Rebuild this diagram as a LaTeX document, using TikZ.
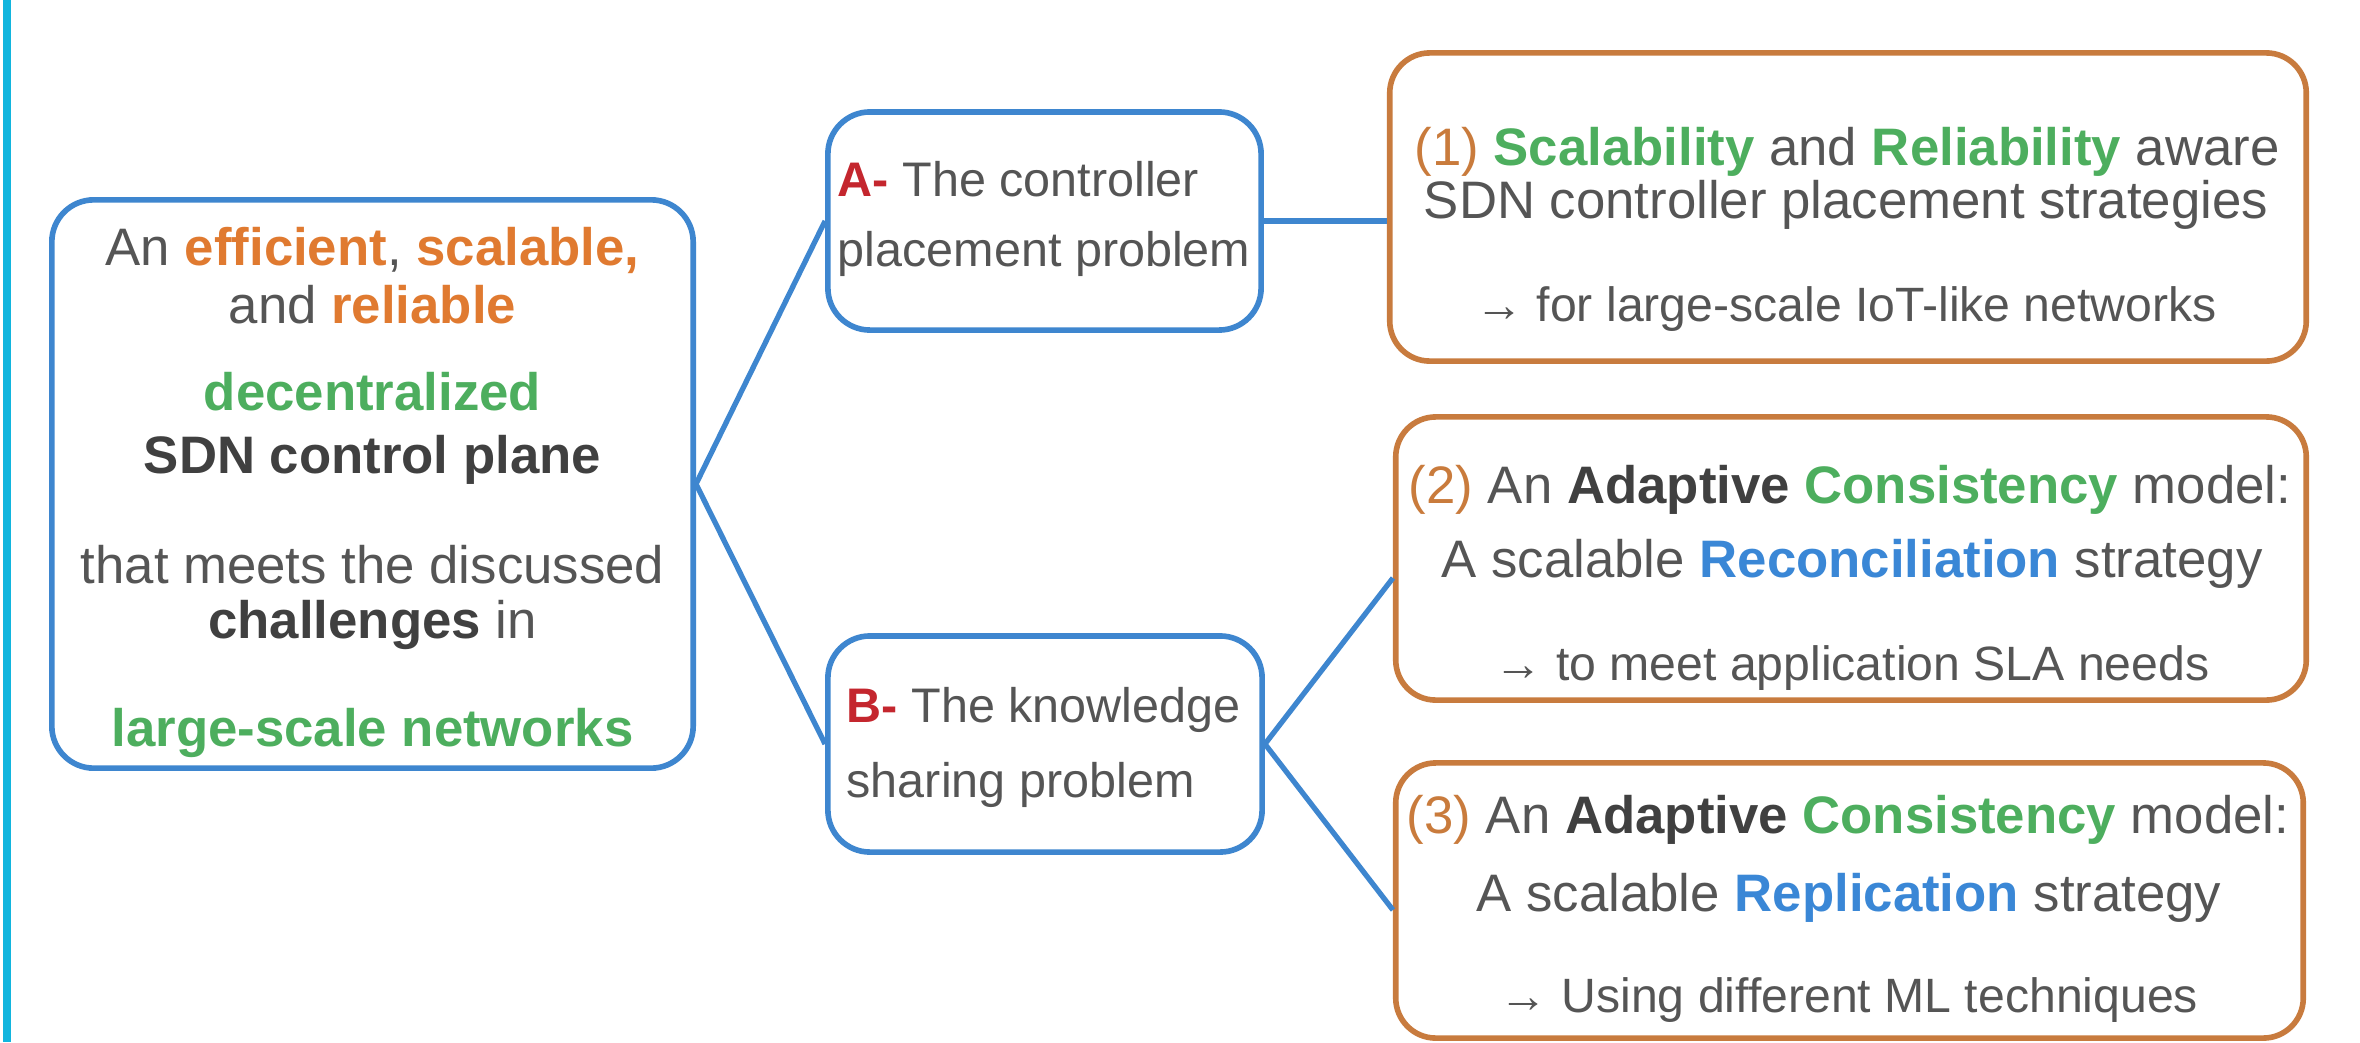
\documentclass[tikz,border=0pt]{standalone}
\usepackage{fontspec}
\setmainfont{Liberation Sans}
\usetikzlibrary{calc}
\definecolor{txtgray}{HTML}{555555}
\definecolor{txtdark}{HTML}{404040}
\definecolor{txtora}{HTML}{E07A30}
\definecolor{numora}{HTML}{C97B3C}
\definecolor{txtgreen}{HTML}{4DAE5E}
\definecolor{txtblue}{HTML}{3A87D6}
\definecolor{txtred}{HTML}{C4262E}
\definecolor{boxblue}{HTML}{3E86CF}
\definecolor{boxorange}{HTML}{C87B3E}
\definecolor{cyanbar}{HTML}{12B5DE}
\newcommand{\hlO}[1]{\textcolor{txtora}{\textbf{#1}}}
\newcommand{\hlG}[1]{\textcolor{txtgreen}{\textbf{#1}}}
\newcommand{\hlB}[1]{\textcolor{txtblue}{\textbf{#1}}}
\newcommand{\hlD}[1]{\textcolor{txtdark}{\textbf{#1}}}
\newcommand{\hlR}[1]{\textcolor{txtred}{\textbf{#1}}}
\newcommand{\hlN}[1]{\textcolor{numora}{#1}}
\begin{document}
\begin{tikzpicture}[x=0.01cm,y=-0.01cm,
  bluebox/.style={draw=boxblue, line width=1.6pt, rounded corners=0.42cm, fill=white, inner sep=0pt},
  orangebox/.style={draw=boxorange, line width=1.6pt, rounded corners=0.4cm, fill=white, inner sep=0pt},
  link/.style={draw=boxblue, line width=1.5pt},
  bigtxt/.style={font=\fontsize{15}{18}\selectfont, text=txtgray, anchor=base, inner sep=0pt},
  midtxt/.style={font=\fontsize{13.8}{16}\selectfont, text=txtgray, anchor=base west, inner sep=0pt},
  smalltxt/.style={font=\fontsize{13.7}{16}\selectfont, text=txtgray, anchor=base, inner sep=0pt}]
\useasboundingbox (0,0) rectangle (2360,1042);
\fill[white] (0,0) rectangle (2360,1042);
\fill[cyanbar] (3,0) rectangle (11,1042);

% boxes
\node[bluebox, minimum width=6.41cm, minimum height=5.68cm] (main) at (372.5,484) {};
\node[bluebox, minimum width=4.33cm, minimum height=2.18cm] (pa) at (1044.5,221) {};
\node[bluebox, minimum width=4.34cm, minimum height=2.16cm] (pb) at (1045,744) {};
\node[orangebox, minimum width=9.16cm, minimum height=3.08cm] (c1) at (1848,207) {};
\node[orangebox, minimum width=9.10cm, minimum height=2.83cm] (c2) at (1851,558.5) {};
\node[orangebox, minimum width=9.07cm, minimum height=2.75cm] (c3) at (1849.5,900.5) {};

% connectors
\draw[link] (main.east) -- (pa.west);
\draw[link] (main.east) -- (pb.west);
\draw[link] (pa.east) -- (pa.east -| c1.west);
\draw[link] (pb.east) -- ([yshift=-0.195cm]c2.west);
\draw[link] (pb.east) -- ([yshift=-0.095cm]c3.west);

% main box text
\node[bigtxt] (m1) at (372.5,265) {An \hlO{efficient}, \hlO{scalable,}};
\node[bigtxt] (m2) at (372.5,323) {and \hlO{reliable}};
\node[bigtxt] (m3) at (372.5,410) {\hlG{decentralized}};
\node[bigtxt] (m4) at (372.5,473) {\hlD{SDN control plane}};
\node[bigtxt] (m5) at (372.5,583) {that meets the discussed};
\node[bigtxt] (m6) at (372.5,638) {\hlD{challenges} in};
\node[bigtxt] (m7) at (372.5,746) {\hlG{large-scale networks}};

% problem boxes
\node[midtxt] (a1) at (837,196) {\hlR{A-} The controller};
\node[midtxt] (a2) at (837,266) {placement problem};
\node[midtxt] (b1) at (846,722) {\hlR{B-} The knowledge};
\node[midtxt] (b2) at (846,797) {sharing problem};

% contribution 1
\node[bigtxt] (c1a) at (1847,165) {\hlN{(1)} \hlG{Scalability} and \hlG{Reliability} aware};
\node[bigtxt] (c1b) at (1846,218) {SDN controller placement strategies};
\node[smalltxt] (c1c) at (1846,321) {→ for large-scale IoT-like networks};

% contribution 2
\node[bigtxt] (c2a) at (1850,503) {\hlN{(2)} An \hlD{Adaptive} \hlG{Consistency} model:};
\node[bigtxt] (c2b) at (1852,577) {A scalable \hlB{Reconciliation} strategy};
\node[smalltxt] (c2c) at (1852,680) {→ to meet application SLA needs};

% contribution 3
\node[bigtxt] (c3a) at (1848,833) {\hlN{(3)} An \hlD{Adaptive} \hlG{Consistency} model:};
\node[bigtxt] (c3b) at (1849,911) {A scalable \hlB{Replication} strategy};
\node[smalltxt] (c3c) at (1849,1012) {→ Using different ML techniques};
\end{tikzpicture}
\end{document}
